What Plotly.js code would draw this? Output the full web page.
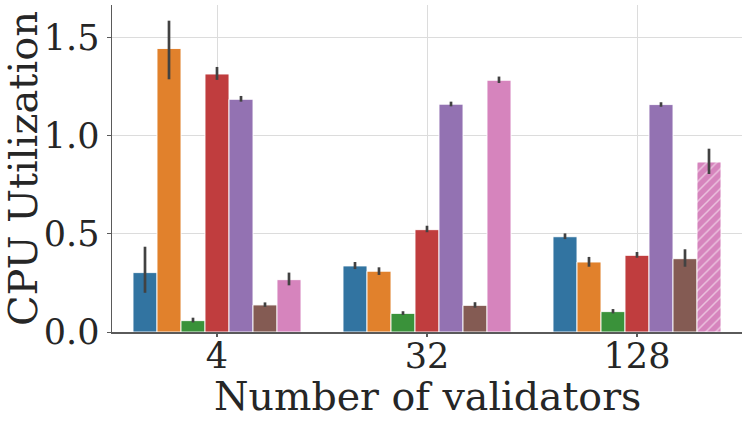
<!DOCTYPE html>
<html>
<head>
<meta charset="utf-8">
<script src="https://cdn.plot.ly/plotly-3.0.1.min.js"></script>
<style>html,body{margin:0;padding:0;background:#fff;}#chart{width:748px;height:422px;}</style>
</head>
<body>
<div id="chart"></div>
<script>
// Categories (number of validators)
const categories = ["4", "32", "128"];

// Series names (unlabelled in the reference; seven hue levels)
const seriesNames = ["S1", "S2", "S3", "S4", "S5", "S6", "S7"];

// Mean CPU utilization per series, ordered as categories
const s1Mean = [0.303, 0.337, 0.486];
const s2Mean = [1.446, 0.310, 0.357];
const s3Mean = [0.058, 0.095, 0.104];
const s4Mean = [1.316, 0.522, 0.391];
const s5Mean = [1.187, 1.162, 1.160];
const s6Mean = [0.138, 0.136, 0.374];
const s7Mean = [0.267, 1.284, 0.867];

// Upper / lower ends of the error bars
const s1Hi = [0.435, 0.357, 0.503];
const s1Lo = [0.200, 0.321, 0.474];
const s2Hi = [1.588, 0.330, 0.383];
const s2Lo = [1.289, 0.291, 0.333];
const s3Hi = [0.073, 0.106, 0.117];
const s3Lo = [0.049, 0.087, 0.095];
const s4Hi = [1.352, 0.542, 0.408];
const s4Lo = [1.286, 0.509, 0.379];
const s5Hi = [1.204, 1.175, 1.172];
const s5Lo = [1.175, 1.151, 1.149];
const s6Hi = [0.151, 0.152, 0.422];
const s6Lo = [0.128, 0.124, 0.333];
const s7Hi = [0.303, 1.303, 0.935];
const s7Lo = [0.238, 1.270, 0.806];

// Which bars are hatched (per series, per category)
const s7Hatch = ["", "", "/"];

const xTitle = "Number of validators";
const yTitle = "CPU Utilization";

const colors = ["#3274a1", "#e1812c", "#3a923a", "#c03d3e", "#9372b2", "#845b53", "#d684bd"];

const means = [s1Mean, s2Mean, s3Mean, s4Mean, s5Mean, s6Mean, s7Mean];
const his = [s1Hi, s2Hi, s3Hi, s4Hi, s5Hi, s6Hi, s7Hi];
const los = [s1Lo, s2Lo, s3Lo, s4Lo, s5Lo, s6Lo, s7Lo];

const traces = means.map((m, i) => {
  const marker = {color: colors[i], line: {color: "rgba(255,255,255,0.9)", width: 1}};
  if (i === 6) {
    marker.pattern = {shape: s7Hatch, fgcolor: "#ffffff", bgcolor: colors[i], size: 7, solidity: 0.22, fillmode: "overlay"};
  }
  return {
    type: "bar",
    name: seriesNames[i],
    x: categories,
    y: m,
    marker: marker,
    error_y: {
      type: "data",
      symmetric: false,
      array: his[i].map((h, k) => h - m[k]),
      arrayminus: los[i].map((l, k) => m[k] - l),
      color: "#424242",
      thickness: 2.7,
      width: 0
    },
    showlegend: false
  };
});

// invisible helper trace so the tick-mark axis is drawn
traces.push({type: "scatter", x: categories, y: [null, null, null], xaxis: "x2", yaxis: "y", hoverinfo: "skip", showlegend: false});

const layout = {
  width: 748, height: 422,
  margin: {l: 112, r: 6, t: 5, b: 90},
  paper_bgcolor: "#ffffff",
  plot_bgcolor: "#ffffff",
  barmode: "group",
  bargap: 0.2,
  bargroupgap: 0,
  font: {family: "DejaVu Serif, serif", color: "#262626"},
  xaxis: {
    type: "category",
    range: [-0.5, 2.5],
    showgrid: true, gridcolor: "#dcdcdc", gridwidth: 1,
    showline: true, linecolor: "#5a5a5a", linewidth: 1.5,
    ticks: "",
    ticklabelstandoff: -8,
    tickfont: {family: "DejaVu Serif, serif", size: 35, color: "#262626"},
    zeroline: false
  },
  xaxis2: {
    type: "category",
    overlaying: "x",
    matches: "x",
    side: "bottom",
    range: [-0.5, 2.5],
    showgrid: false, showline: false, showticklabels: false,
    ticks: "outside", ticklen: 4, tickcolor: "#5a5a5a", tickwidth: 1.2,
    zeroline: false
  },
  yaxis: {
    range: [0, 1.668],
    tickvals: [0, 0.5, 1.0, 1.5],
    ticktext: ["0.0", "0.5", "1.0", "1.5"],
    showgrid: true, gridcolor: "#dcdcdc", gridwidth: 1,
    showline: true, linecolor: "#5a5a5a", linewidth: 1.5,
    ticks: "outside", ticklen: 4, tickcolor: "#5a5a5a",
    tickfont: {family: "DejaVu Serif, serif", size: 35, color: "#262626"},
    title: {text: yTitle, font: {family: "DejaVu Serif, serif", size: 40, color: "#262626"}, standoff: 4},
    zeroline: false
  },
  annotations: [{
    text: xTitle, xref: "paper", yref: "paper", x: 0.5, y: -0.195,
    xanchor: "center", yanchor: "middle", showarrow: false,
    font: {family: "DejaVu Serif, serif", size: 39.5, color: "#262626"}
  }]
};

Plotly.newPlot("chart", traces, layout, {staticPlot: true, displayModeBar: false});
</script>
</body>
</html>
